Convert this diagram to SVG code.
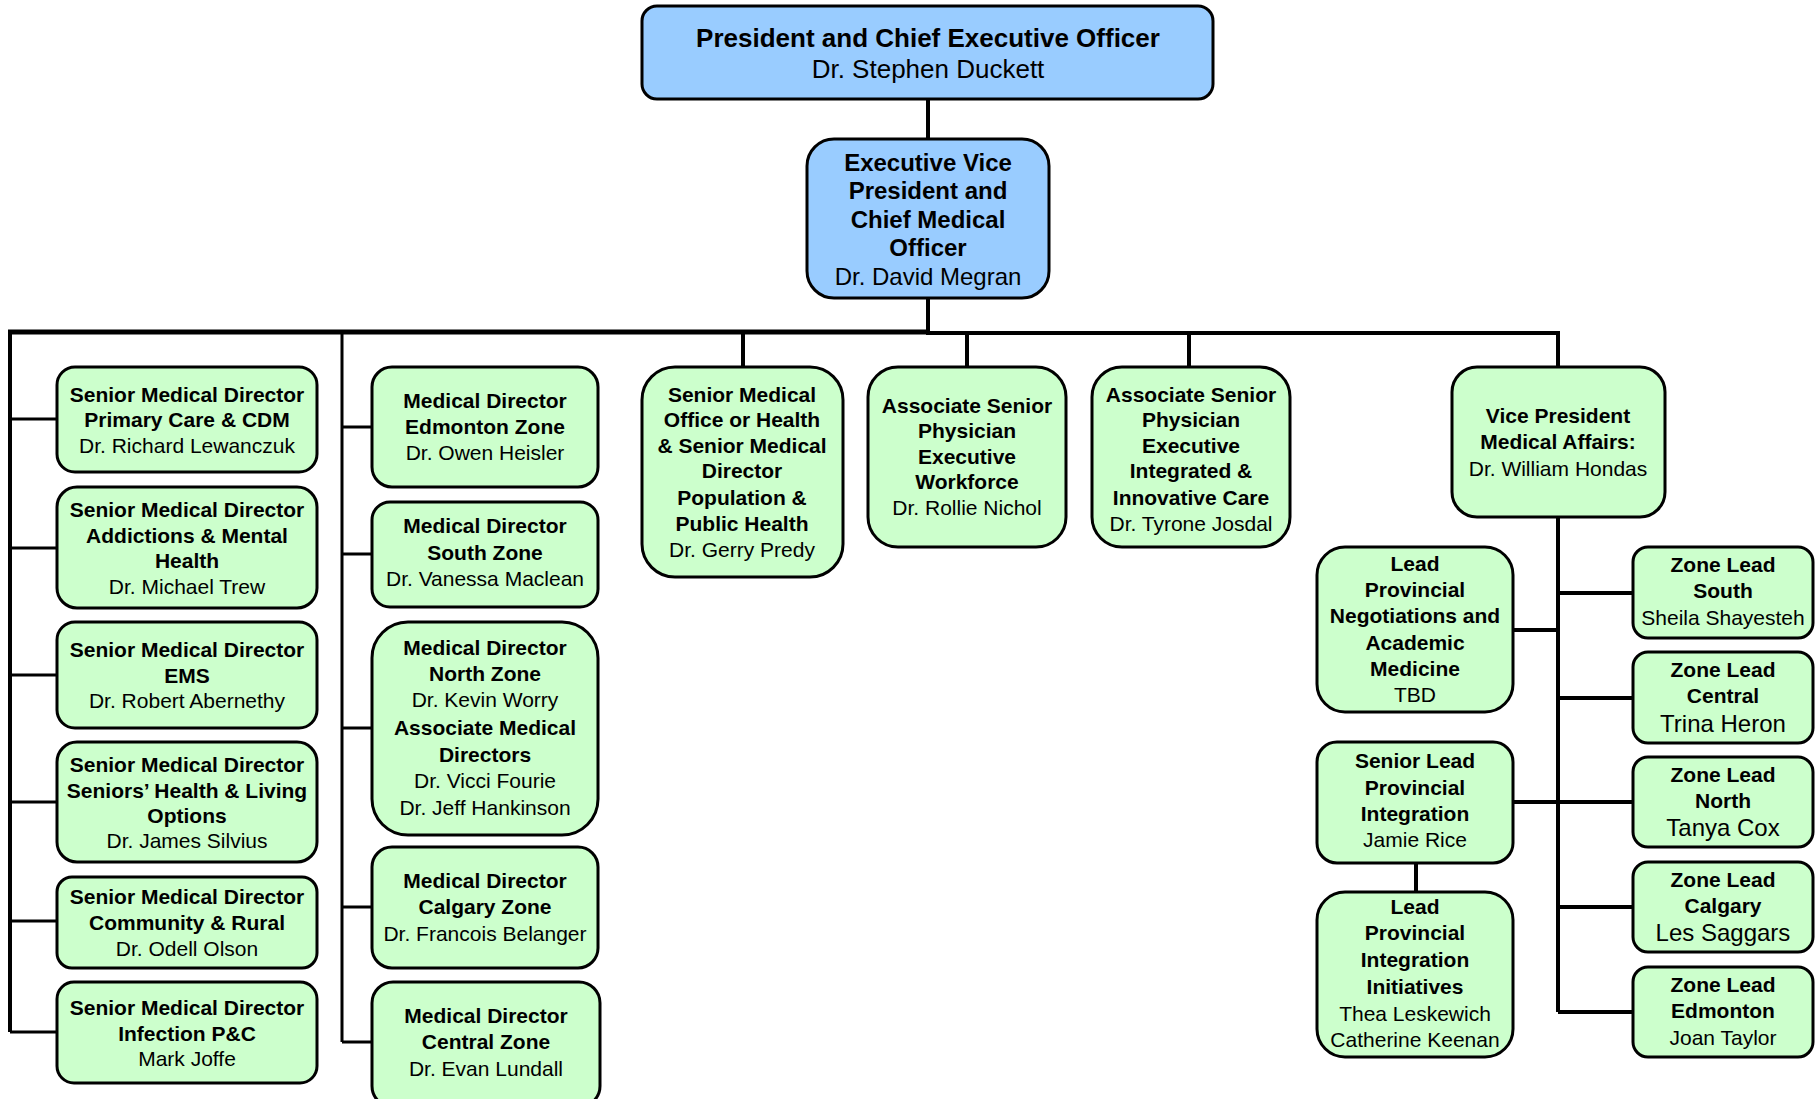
<svg xmlns="http://www.w3.org/2000/svg" width="1816" height="1099" viewBox="0 0 1816 1099">
<style>
.blue{fill:#99CCFF;stroke:#000;stroke-width:3}
.green{fill:#CCFFCC;stroke:#000;stroke-width:3}
text{font-family:"Liberation Sans",Arial,sans-serif;text-anchor:middle;fill:#000;font-size:21px}
.b{font-weight:bold}
.l{font-size:24px}
.xl{font-size:26px}
.conn{fill:none;stroke:#000;stroke-width:4}
.bar{fill:none;stroke:#000;stroke-width:5}
.thin{fill:none;stroke:#000;stroke-width:3}
</style>
<rect width="1816" height="1099" fill="#fff"/>
<g id="connectors">
<path class="conn" d="M928,99 V139 M928,298 V333"/>
<path class="bar" d="M8,332 H928"/>
<path class="conn" d="M926,333 H1558 V367"/>
<path class="conn" d="M743,333 V367 M967,333 V367 M1189,333 V367"/>
<path class="conn" d="M10,332 V1032"/>
<path class="thin" d="M10,419 H57 M10,548 H57 M10,675 H57 M10,802 H57 M10,921 H57 M10,1032 H57"/>
<path class="thin" d="M342,332 V1042 M342,427 H372 M342,554 H372 M342,728 H372 M342,907 H372 M342,1042 H372"/>
<path class="conn" d="M1558,517 V1012 M1513,630 H1558 M1558,593 H1633 M1558,698 H1633 M1513,802 H1633 M1558,907 H1633 M1558,1012 H1633 M1416,863 V892"/>
</g>
<g id="ceo">
<rect class="blue" x="642" y="6" width="571" height="93" rx="15"/>
<text class="b xl" x="928" y="47">President and Chief Executive Officer</text>
<text class="xl" x="928" y="78">Dr. Stephen Duckett</text>
</g>
<g id="evp">
<rect class="blue" x="807" y="139" width="242" height="159" rx="27"/>
<text class="b l" x="928" y="171">Executive Vice</text>
<text class="b l" x="928" y="199">President and</text>
<text class="b l" x="928" y="228">Chief Medical</text>
<text class="b l" x="928" y="256">Officer</text>
<text class="l" x="928" y="285">Dr. David Megran</text>
</g>
<g id="smd-primary">
<rect class="green" x="57" y="367" width="260" height="105" rx="18"/>
<text class="b" x="187" y="402">Senior Medical Director</text>
<text class="b" x="187" y="427">Primary Care &amp; CDM</text>
<text x="187" y="453">Dr. Richard Lewanczuk</text>
</g>
<g id="smd-amh">
<rect class="green" x="57" y="487" width="260" height="121" rx="20"/>
<text class="b" x="187" y="517">Senior Medical Director</text>
<text class="b" x="187" y="543">Addictions &amp; Mental</text>
<text class="b" x="187" y="568">Health</text>
<text x="187" y="594">Dr. Michael Trew</text>
</g>
<g id="smd-ems">
<rect class="green" x="57" y="622" width="260" height="106" rx="18"/>
<text class="b" x="187" y="657">Senior Medical Director</text>
<text class="b" x="187" y="683">EMS</text>
<text x="187" y="708">Dr. Robert Abernethy</text>
</g>
<g id="smd-seniors">
<rect class="green" x="57" y="742" width="260" height="120" rx="20"/>
<text class="b" x="187" y="772">Senior Medical Director</text>
<text class="b" x="187" y="798">Seniors’ Health &amp; Living</text>
<text class="b" x="187" y="823">Options</text>
<text x="187" y="848">Dr. James Silvius</text>
</g>
<g id="smd-community">
<rect class="green" x="57" y="877" width="260" height="91" rx="15"/>
<text class="b" x="187" y="904">Senior Medical Director</text>
<text class="b" x="187" y="930">Community &amp; Rural</text>
<text x="187" y="956">Dr. Odell Olson</text>
</g>
<g id="smd-infection">
<rect class="green" x="57" y="982" width="260" height="101" rx="17"/>
<text class="b" x="187" y="1015">Senior Medical Director</text>
<text class="b" x="187" y="1041">Infection P&amp;C</text>
<text x="187" y="1066">Mark Joffe</text>
</g>
<g id="md-edmonton">
<rect class="green" x="372" y="367" width="226" height="120" rx="20"/>
<text class="b" x="485" y="408">Medical Director</text>
<text class="b" x="485" y="434">Edmonton Zone</text>
<text x="485" y="460">Dr. Owen Heisler</text>
</g>
<g id="md-south">
<rect class="green" x="372" y="502" width="226" height="105" rx="18"/>
<text class="b" x="485" y="533">Medical Director</text>
<text class="b" x="485" y="560">South Zone</text>
<text x="485" y="586">Dr. Vanessa Maclean</text>
</g>
<g id="md-north">
<rect class="green" x="372" y="622" width="226" height="213" rx="36"/>
<text class="b" x="485" y="655">Medical Director</text>
<text class="b" x="485" y="681">North Zone</text>
<text x="485" y="707">Dr. Kevin Worry</text>
<text class="b" x="485" y="735">Associate Medical</text>
<text class="b" x="485" y="762">Directors</text>
<text x="485" y="788">Dr. Vicci Fourie</text>
<text x="485" y="815">Dr. Jeff Hankinson</text>
</g>
<g id="md-calgary">
<rect class="green" x="372" y="847" width="226" height="121" rx="20"/>
<text class="b" x="485" y="888">Medical Director</text>
<text class="b" x="485" y="914">Calgary Zone</text>
<text x="485" y="941">Dr. Francois Belanger</text>
</g>
<g id="md-central">
<rect class="green" x="372" y="982" width="228" height="125" rx="21"/>
<text class="b" x="486" y="1023">Medical Director</text>
<text class="b" x="486" y="1049">Central Zone</text>
<text x="486" y="1076">Dr. Evan Lundall</text>
</g>
<g id="smo-health">
<rect class="green" x="642" y="367" width="201" height="210" rx="33"/>
<text class="b" x="742" y="402">Senior Medical</text>
<text class="b" x="742" y="427">Office or Health</text>
<text class="b" x="742" y="453">&amp; Senior Medical</text>
<text class="b" x="742" y="478">Director</text>
<text class="b" x="742" y="505">Population &amp;</text>
<text class="b" x="742" y="531">Public Health</text>
<text x="742" y="557">Dr. Gerry Predy</text>
</g>
<g id="aspe-workforce">
<rect class="green" x="868" y="367" width="198" height="180" rx="30"/>
<text class="b" x="967" y="413">Associate Senior</text>
<text class="b" x="967" y="438">Physician</text>
<text class="b" x="967" y="464">Executive</text>
<text class="b" x="967" y="489">Workforce</text>
<text x="967" y="515">Dr. Rollie Nichol</text>
</g>
<g id="aspe-integrated">
<rect class="green" x="1092" y="367" width="198" height="180" rx="30"/>
<text class="b" x="1191" y="402">Associate Senior</text>
<text class="b" x="1191" y="427">Physician</text>
<text class="b" x="1191" y="453">Executive</text>
<text class="b" x="1191" y="478">Integrated &amp;</text>
<text class="b" x="1191" y="505">Innovative Care</text>
<text x="1191" y="531">Dr. Tyrone Josdal</text>
</g>
<g id="vp-medical">
<rect class="green" x="1452" y="367" width="213" height="150" rx="25"/>
<text class="b" x="1558" y="423">Vice President</text>
<text class="b" x="1558" y="449">Medical Affairs:</text>
<text x="1558" y="476">Dr. William Hondas</text>
</g>
<g id="lead-negotiations">
<rect class="green" x="1317" y="547" width="196" height="165" rx="28"/>
<text class="b" x="1415" y="571">Lead</text>
<text class="b" x="1415" y="597">Provincial</text>
<text class="b" x="1415" y="623">Negotiations and</text>
<text class="b" x="1415" y="650">Academic</text>
<text class="b" x="1415" y="676">Medicine</text>
<text x="1415" y="702">TBD</text>
</g>
<g id="senior-lead-integration">
<rect class="green" x="1317" y="742" width="196" height="121" rx="20"/>
<text class="b" x="1415" y="768">Senior Lead</text>
<text class="b" x="1415" y="795">Provincial</text>
<text class="b" x="1415" y="821">Integration</text>
<text x="1415" y="847">Jamie Rice</text>
</g>
<g id="lead-integration-initiatives">
<rect class="green" x="1317" y="892" width="196" height="165" rx="28"/>
<text class="b" x="1415" y="914">Lead</text>
<text class="b" x="1415" y="940">Provincial</text>
<text class="b" x="1415" y="967">Integration</text>
<text class="b" x="1415" y="994">Initiatives</text>
<text x="1415" y="1021">Thea Leskewich</text>
<text x="1415" y="1047">Catherine Keenan</text>
</g>
<g id="zone-south">
<rect class="green" x="1633" y="547" width="180" height="91" rx="15"/>
<text class="b" x="1723" y="572">Zone Lead</text>
<text class="b" x="1723" y="598">South</text>
<text x="1723" y="625">Sheila Shayesteh</text>
</g>
<g id="zone-central">
<rect class="green" x="1633" y="652" width="180" height="91" rx="15"/>
<text class="b" x="1723" y="677">Zone Lead</text>
<text class="b" x="1723" y="703">Central</text>
<text class="l" x="1723" y="732">Trina Heron</text>
</g>
<g id="zone-north">
<rect class="green" x="1633" y="757" width="180" height="90" rx="15"/>
<text class="b" x="1723" y="782">Zone Lead</text>
<text class="b" x="1723" y="808">North</text>
<text class="l" x="1723" y="836">Tanya Cox</text>
</g>
<g id="zone-calgary">
<rect class="green" x="1633" y="862" width="180" height="90" rx="15"/>
<text class="b" x="1723" y="887">Zone Lead</text>
<text class="b" x="1723" y="913">Calgary</text>
<text class="l" x="1723" y="941">Les Saggars</text>
</g>
<g id="zone-edmonton">
<rect class="green" x="1633" y="967" width="180" height="90" rx="15"/>
<text class="b" x="1723" y="992">Zone Lead</text>
<text class="b" x="1723" y="1018">Edmonton</text>
<text x="1723" y="1045">Joan Taylor</text>
</g>
</svg>
